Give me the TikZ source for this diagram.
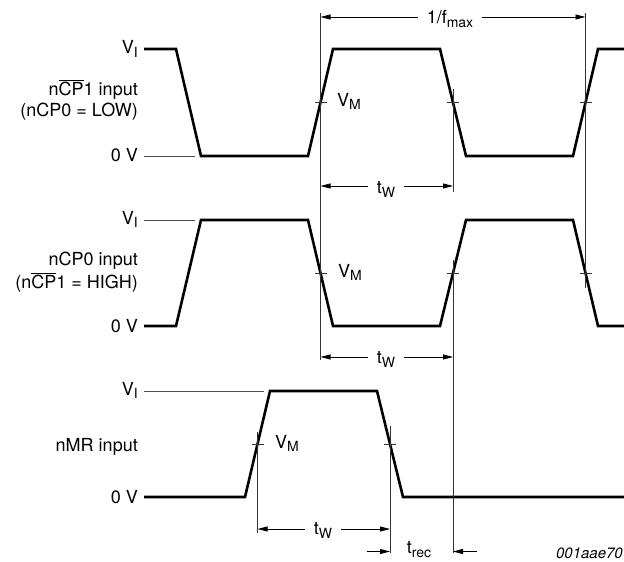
\documentclass[tikz,border=0pt]{standalone}
\usepackage{fontspec}
\setmainfont{TeX Gyre Heros}
\usetikzlibrary{arrows.meta}
\newcommand{\mysub}[1]{\raisebox{-3.5pt}{\fontsize{14}{15}\selectfont #1}}
\begin{document}
\begin{tikzpicture}[x=1pt,y=-1pt,
  wave/.style={line width=2.6pt, line join=miter},
  thinref/.style={line width=0.8pt, black!70},
  vline/.style={line width=0.8pt, black!80},
  tickmark/.style={line width=0.8pt, black!80},
  dimarrow/.style={line width=0.8pt, -{Triangle[length=10pt,width=5pt]}},
  lbl/.style={font=\fontsize{18}{21}\selectfont, inner sep=0pt},
  dimlbl/.style={lbl, inner xsep=9pt},
  figid/.style={font=\fontsize{15}{18}\selectfont\itshape, inner sep=0pt}]
\useasboundingbox (0,0) rectangle (624,562);

% waveforms
\draw[wave] (144,49) -- (176,49) -- (201,156) -- (308,156) -- (333,49) -- (440,49) -- (466,156) -- (573,156) -- (598,49) -- (625,49);
\draw[wave] (144,326) -- (176,326) -- (201,220) -- (308,220) -- (333,326) -- (440,326) -- (466,220) -- (573,220) -- (598,326) -- (625,326);
\draw[wave] (144,497) -- (245,497) -- (270,391) -- (377,391) -- (403,497) -- (625,497);

% thin reference levels
\draw[thinref] (144,156) -- (195,156);
\draw[thinref] (144,220) -- (195,220);
\draw[thinref] (144,391) -- (264,391);

% left labels
\node[lbl, anchor=base east] (vi1) at (138,53.5) {V\mysub{I}};
\node[lbl, anchor=base east] (in1a) at (138,95) {n$\overline{\mbox{CP}}$1 input};
\node[lbl, anchor=base east] (in1b) at (138,116) {(nCP0 = LOW)};
\node[lbl, anchor=base east] (zv1) at (138,161) {0 V};
\node[lbl, anchor=base east] (vi2) at (138,224) {V\mysub{I}};
\node[lbl, anchor=base east] (in2a) at (138,265) {nCP0 input};
\node[lbl, anchor=base east] (in2b) at (138,288) {(n$\overline{\mbox{CP}}$1 = HIGH)};
\node[lbl, anchor=base east] (zv2) at (138,332) {0 V};
\node[lbl, anchor=base east] (vi3) at (138,395) {V\mysub{I}};
\node[lbl, anchor=base east] (in3) at (138,451) {nMR input};
\node[lbl, anchor=base east] (zv3) at (138,503) {0 V};

% VM labels
\node[lbl, anchor=base west] (vm1) at (337,106) {V\mysub{M}};
\node[lbl, anchor=base west] (vm2) at (338,277) {V\mysub{M}};
\node[lbl, anchor=base west] (vm3) at (275,448) {V\mysub{M}};

% vertical reference lines
\draw[vline] (320.5,13) -- (320.5,360);
\draw[vline] (585.5,13) -- (585.5,288);
\draw[vline] (453,89) -- (453,192);
\draw[vline] (453,260) -- (453,553);
\draw[vline] (257.5,432) -- (257.5,533);
\draw[vline] (390,426) -- (390,553);

% VM ticks
\foreach \x/\y in {320.5/102.5, 453/102.5, 585.5/102.5, 320.5/273, 453/273, 585.5/273, 257.5/444, 390/444}
  \draw[tickmark] (\x-6,\y) -- (\x+6,\y);

% dimension coordinates
\coordinate (F1) at (320.5,17);
\coordinate (F2) at (585.5,17);
\coordinate (W1a) at (320.5,186);
\coordinate (W1b) at (453,186);
\coordinate (W2a) at (320.5,357);
\coordinate (W2b) at (453,357);
\coordinate (W3a) at (257.5,529);
\coordinate (W3b) at (390,529);
\coordinate (R1) at (390,551.5);
\coordinate (R2) at (453,551.5);
\coordinate (R1o) at (366.5,551.5);
\coordinate (R2o) at (477,551.5);

% dimension labels
\node[dimlbl, anchor=base] (fm) at (450,23.5) {1/f\mysub{max}};
\node[dimlbl, anchor=base] (tw1) at (386,193.5) {t\mysub{W}};
\node[dimlbl, anchor=base] (tw2) at (386,363.5) {t\mysub{W}};
\node[dimlbl, anchor=base] (tw3) at (323,534.5) {t\mysub{W}};
\node[lbl, anchor=base] (trec) at (419,553.5) {t\mysub{rec}};

% dimension arrows
\draw[dimarrow] (fm.west |- F1) -- (F1);
\draw[dimarrow] (fm.east |- F2) -- (F2);
\draw[dimarrow] (tw1.west |- W1a) -- (W1a);
\draw[dimarrow] (tw1.east |- W1b) -- (W1b);
\draw[dimarrow] (tw2.west |- W2a) -- (W2a);
\draw[dimarrow] (tw2.east |- W2b) -- (W2b);
\draw[dimarrow] (tw3.west |- W3a) -- (W3a);
\draw[dimarrow] (tw3.east |- W3b) -- (W3b);
\draw[dimarrow] (R1o) -- (R1);
\draw[dimarrow] (R2o) -- (R2);

% figure id
\node[figid, anchor=base east] (fid) at (623,558) {001aae70};
\end{tikzpicture}
\end{document}
